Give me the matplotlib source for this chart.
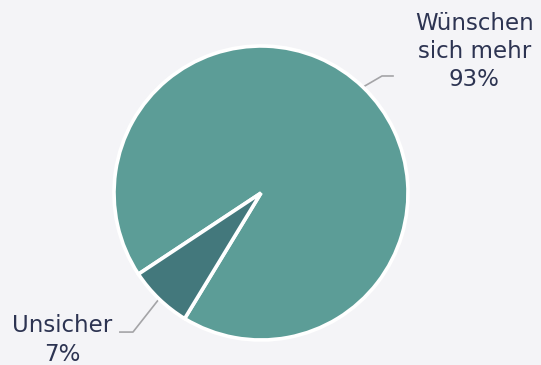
import numpy as np
import matplotlib.pyplot as plt

# --- Data
labels = ['Wünschen\nsich mehr', 'Unsicher']
values = [93, 7]
colors = ['#5c9d97', '#43787c']

W, H = 541, 365
cx, cy, R = 261, 193, 147   # pie centre / radius in pixels

fig = plt.figure(figsize=(W/100, H/100), dpi=100)
fig.patch.set_facecolor('#f4f4f7')
ax = fig.add_axes([(cx-R)/W, (H-cy-R)/H, 2*R/W, 2*R/H])
ax.set_facecolor('none')

wedges, _ = ax.pie(values, colors=colors, startangle=238.7, counterclock=True,
                   wedgeprops=dict(edgecolor='white', linewidth=2.6))
ax.set_xlim(-1, 1)
ax.set_ylim(-1, 1)
ax.axis('off')

# --- Labels with leader lines (elbow, end, text position in data units)
lab_pos = [((0.823, 0.796), (0.898, 0.796), (1.450, 0.962), 'center'),
           ((-0.871, -0.946), (-0.960, -0.946), (-1.350, -1.0), 'center')]
for w, lab, v, (elb, end, txt, ha) in zip(wedges, labels, values, lab_pos):
    a = np.deg2rad((w.theta1 + w.theta2) / 2)
    x0, y0 = np.cos(a), np.sin(a)
    ax.plot([x0, elb[0], end[0]], [y0, elb[1], end[1]], color='#a4a4a7', lw=1.2,
            clip_on=False, zorder=0)
    ax.text(txt[0], txt[1], '%s\n%d%%' % (lab, v), ha=ha, va='center',
            fontsize=16.5, color='#2d3452', linespacing=1.3, clip_on=False)

fig.savefig('out.png', dpi=100, facecolor=fig.get_facecolor())
